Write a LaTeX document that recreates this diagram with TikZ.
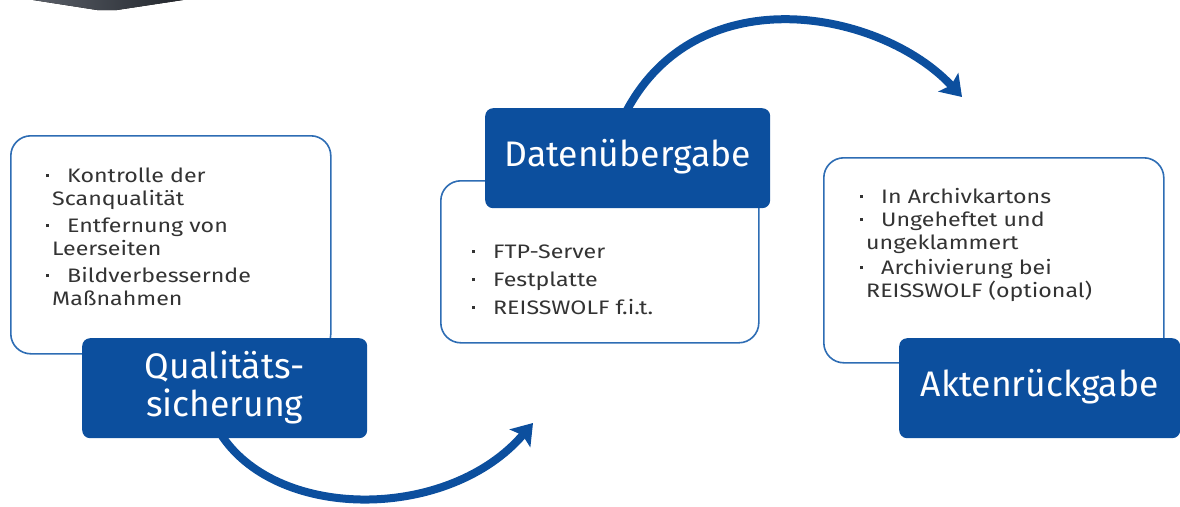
\documentclass[tikz,border=0pt]{standalone}
\usepackage{fontspec}
\setmainfont{Fira Sans}
\newfontfamily\itemfont[FakeStretch=1.19]{Fira Sans}
\usetikzlibrary{arrows.meta}
\definecolor{darkblue}{HTML}{0C4F9E}
\definecolor{outlineblue}{HTML}{2E6DB4}
\definecolor{txtgray}{HTML}{333333}
\definecolor{grayA}{HTML}{5A5F68}
\definecolor{grayB}{HTML}{22262C}
\newcommand\bul{\makebox[21pt][l]{\raisebox{5pt}{\rule{3.2pt}{3.2pt}}}}
\begin{document}
\begin{tikzpicture}[x=1pt,y=-1pt,
  outlinebox/.style={draw=outlineblue,line width=1.6pt,rounded corners=20pt,fill=white,anchor=north west,inner sep=0pt},
  darkbox/.style={fill=darkblue,rounded corners=8pt,anchor=north west,inner sep=0pt},
  titletext/.style={text=white,align=center,font=\fontsize{35.5}{38}\selectfont,inner sep=0pt},
  itemtext/.style={text=txtgray,anchor=base west,inner sep=0pt,font=\itemfont\fontsize{19.5}{23}\selectfont},
  bigarrow/.style={draw=darkblue,line width=8pt,-{Stealth[length=20pt,width=27pt,inset=4pt]}}
]
\useasboundingbox (0,0) rectangle (1180,506);
\fill[left color=grayA,right color=grayB] (33,0) -- (183,0) -- (117,10) -- (97,10) -- cycle;

% outline boxes
\node[outlinebox,minimum width=320pt,minimum height=218pt] (ob1) at (10,135) {};
\node[outlinebox,minimum width=318pt,minimum height=162pt] (ob2) at (440,180) {};
\node[outlinebox,minimum width=340pt,minimum height=205pt] (ob3) at (823,157) {};

% arrows
\coordinate (a1s) at (222,436);
\coordinate (a1e) at (533,423);
\coordinate (a2s) at (627,110);
\coordinate (a2e) at (962,97);
\draw[bigarrow] (a1s) .. controls (280,522) and (450,520) .. (a1e);
\draw[bigarrow] (a2s) .. controls (700,-25) and (882,11) .. (a2e);

% dark boxes
\node[darkbox,minimum width=285pt,minimum height=100pt] (db1) at (82,338) {};
\node[darkbox,minimum width=285pt,minimum height=100pt] (db2) at (485,108) {};
\node[darkbox,minimum width=281pt,minimum height=100pt] (db3) at (899,338) {};
\node[titletext] (t1) at ([yshift=1pt]db1.center) {Qualitäts-\\sicherung};
\node[titletext] (t2) at ([yshift=2pt]db2.center) {Datenübergabe};
\node[titletext] (t3) at ([yshift=2pt]db3.center) {Aktenrückgabe};

% box 1 items
\node[itemtext] (k1) at (46,182) {\bul Kontrolle der};
\node[itemtext] (k2) at (52,205) {Scanqualität};
\node[itemtext] (k3) at (46,232) {\bul Entfernung von};
\node[itemtext] (k4) at (52,255) {Leerseiten};
\node[itemtext] (k5) at (46,282) {\bul Bildverbessernde};
\node[itemtext] (k6) at (52,305) {Maßnahmen};

% box 2 items
\node[itemtext] (d1) at (472,258) {\bul FTP-Server};
\node[itemtext] (d2) at (472,286) {\bul Festplatte};
\node[itemtext] (d3) at (472,314) {\bul REISSWOLF f.i.t.};

% box 3 items
\node[itemtext] (r1) at (860,203) {\bul In Archivkartons};
\node[itemtext] (r2) at (860,226) {\bul Ungeheftet und};
\node[itemtext] (r3) at (866,249) {ungeklammert};
\node[itemtext] (r4) at (860,274) {\bul Archivierung bei};
\node[itemtext] (r5) at (866,297) {REISSWOLF (optional)};
\end{tikzpicture}
\end{document}
